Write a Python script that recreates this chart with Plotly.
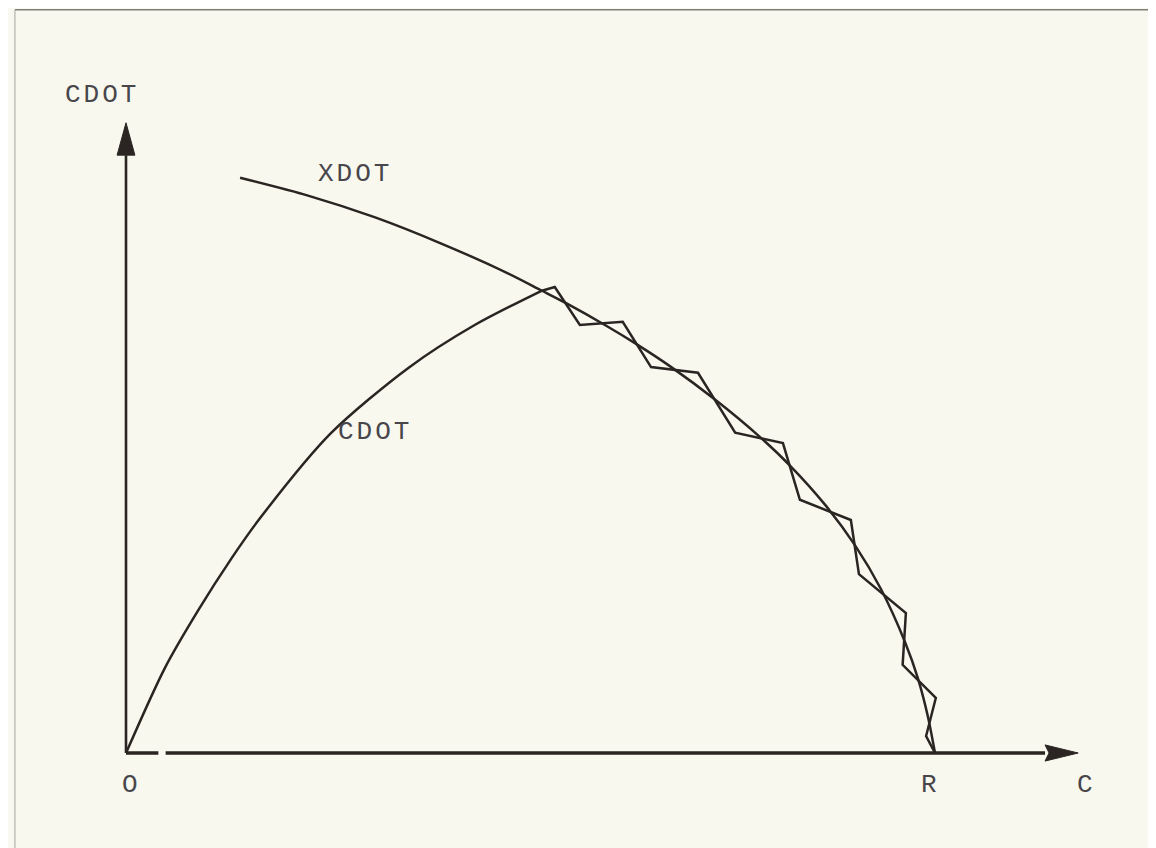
import plotly.graph_objects as go

# ---------------- data (C in units of R, CDOT on the same scale) ----------------
xdot_c = [0.141, 0.225, 0.308, 0.389, 0.472, 0.513, 0.544, 0.592, 0.630, 0.674,
          0.728, 0.781, 0.821, 0.864, 0.901, 0.933, 0.963, 0.979, 0.991, 1.000]
xdot_v = [0.711, 0.689, 0.662, 0.630, 0.593, 0.572, 0.556, 0.529, 0.506, 0.477,
          0.437, 0.393, 0.355, 0.307, 0.257, 0.203, 0.137, 0.092, 0.046, 0.000]

cdot_c = [0.000, 0.048, 0.089, 0.130, 0.167, 0.253, 0.349, 0.431, 0.513]
cdot_v = [0.000, 0.105, 0.176, 0.240, 0.292, 0.395, 0.476, 0.529, 0.571]

traj_c = [0.513, 0.530, 0.561, 0.614, 0.649, 0.707, 0.753, 0.812, 0.833, 0.896,
          0.906, 0.964, 0.960, 1.001, 0.989, 1.000]
traj_v = [0.571, 0.576, 0.529, 0.533, 0.477, 0.470, 0.396, 0.383, 0.313, 0.288,
          0.221, 0.173, 0.109, 0.068, 0.021, 0.000]

axis_labels = ["O", "R", "C"]
axis_label_c = [0.005, 0.993, 1.185]

# ---------------- geometry / style ----------------
W, H = 1156, 848
ORIGIN_X, ORIGIN_Y, SCALE = 118, 745, 809   # pixel position of origin, px per unit
X_RANGE = [(0 - ORIGIN_X) / SCALE, (W - ORIGIN_X) / SCALE]
Y_RANGE = [(ORIGIN_Y - H) / SCALE, ORIGIN_Y / SCALE]

INK = "#2a2522"
BG = "#f8f8ef"
FONT = dict(family="Courier New, Liberation Mono, monospace", size=26, color="#48464a")


def spaced(t):
    return f'<span style="letter-spacing:3px">{t}</span>'


Y_ARROW_BASE, Y_ARROW_TIP, Y_ARROW_HALF = 0.739, 0.779, 0.011
X_STUB_END, X_LINE_START = 0.040, 0.049
X_ARROW_BASE, X_ARROW_TIP, X_ARROW_HALF, X_ARROW_NOTCH = 1.136, 1.177, 0.010, 0.005

fig = go.Figure()

line_style = dict(color=INK, width=2.5)
fig.add_trace(go.Scatter(x=xdot_c, y=xdot_v, mode="lines",
                         line=dict(shape="spline", smoothing=0.8, **line_style),
                         hoverinfo="skip", showlegend=False))
fig.add_trace(go.Scatter(x=cdot_c, y=cdot_v, mode="lines",
                         line=dict(shape="spline", smoothing=0.8, **line_style),
                         hoverinfo="skip", showlegend=False))
fig.add_trace(go.Scatter(x=traj_c, y=traj_v, mode="lines",
                         line=dict(shape="linear", **line_style),
                         hoverinfo="skip", showlegend=False))

# axes drawn as arrows
shapes = [
    dict(type="line", xref="x", yref="y", x0=0, y0=0, x1=0, y1=Y_ARROW_BASE,
         line=dict(color=INK, width=2.6)),
    dict(type="path", xref="x", yref="y",
         path=f"M {-Y_ARROW_HALF} {Y_ARROW_BASE} L {Y_ARROW_HALF} {Y_ARROW_BASE} L 0 {Y_ARROW_TIP} Z",
         fillcolor=INK, line=dict(color=INK, width=1)),
    dict(type="line", xref="x", yref="y", x0=0, y0=0, x1=X_STUB_END, y1=0,
         line=dict(color=INK, width=3.5)),
    dict(type="line", xref="x", yref="y", x0=X_LINE_START, y0=0, x1=X_ARROW_BASE, y1=0,
         line=dict(color=INK, width=3.5)),
    dict(type="path", xref="x", yref="y",
         path=(f"M {X_ARROW_BASE} {-X_ARROW_HALF} L {X_ARROW_TIP} 0 L {X_ARROW_BASE} {X_ARROW_HALF} "
               f"L {X_ARROW_BASE + X_ARROW_NOTCH} 0 Z"),
         fillcolor=INK, line=dict(color=INK, width=1)),
    # scanned page frame
    dict(type="line", xref="paper", yref="paper", x0=0.006, y0=0.998, x1=0.998, y1=0.998,
         line=dict(color="#7e7e78", width=1.5)),
    dict(type="line", xref="paper", yref="paper", x0=0.006, y0=0.0, x1=0.006, y1=0.998,
         line=dict(color="#a4a49e", width=1)),
    dict(type="line", xref="paper", yref="paper", x0=0.998, y0=0.0, x1=0.998, y1=0.998,
         line=dict(color="#a4a49e", width=1)),
]

annotations = []
for txt, c in zip(axis_labels, axis_label_c):
    annotations.append(dict(x=c, y=-0.040, xref="x", yref="y", text=txt, showarrow=False,
                            font=FONT, xanchor="center", yanchor="middle"))
annotations += [
    dict(x=-0.030, y=0.813, xref="x", yref="y", text=spaced("CDOT"), showarrow=False, font=FONT,
         xanchor="center", yanchor="middle"),
    dict(x=0.283, y=0.716, xref="x", yref="y", text=spaced("XDOT"), showarrow=False, font=FONT,
         xanchor="center", yanchor="middle"),
    dict(x=0.308, y=0.397, xref="x", yref="y", text=spaced("CDOT"), showarrow=False, font=FONT,
         xanchor="center", yanchor="middle"),
]

fig.update_layout(
    width=W, height=H,
    margin=dict(l=0, r=0, t=0, b=0),
    paper_bgcolor=BG, plot_bgcolor=BG,
    xaxis=dict(range=X_RANGE, visible=False, fixedrange=True),
    yaxis=dict(range=Y_RANGE, visible=False, fixedrange=True),
    shapes=shapes, annotations=annotations,
    showlegend=False,
)

fig.write_html("out.html")
